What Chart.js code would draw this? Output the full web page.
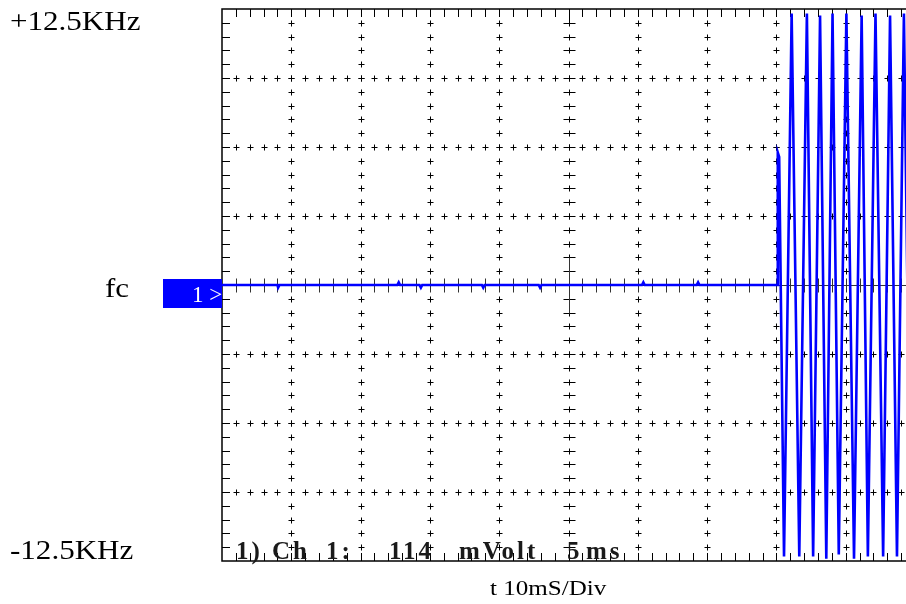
<!DOCTYPE html>
<html>
<head>
<meta charset="utf-8">
<script src="https://cdn.jsdelivr.net/npm/chart.js@4.4.1/dist/chart.umd.min.js"></script>
<style>
  html, body { margin: 0; padding: 0; background: #fff; overflow: hidden; }
  #wrap { width: 920px; height: 604px; }
</style>
</head>
<body>
<div id="wrap"><canvas id="scope" width="920" height="604"></canvas></div>
<script>
// time axis in ms (10 divisions of 10 ms), frequency offset in KHz
const timeMs = [0, 8.0, 8.1, 8.3, 25.3, 25.5, 25.7, 28.5, 28.7, 28.9, 37.5, 37.7, 37.9,
  45.7, 45.9, 46.1, 60.6, 60.8, 61.0, 68.5, 68.7, 68.9, 80.1, 80.2, 80.4,
  81.1, 82.2, 83.3, 84.4, 85.3, 86.3, 87.2, 88.1, 89.0, 90.1, 91.2, 92.3,
  93.2, 94.3, 95.4, 96.4, 97.4, 98.4, 99.4, 100]
const freqKHz = [0, 0, -0.12, 0, 0, 0.12, 0, 0, -0.12, 0, 0, -0.12, 0,
  0, -0.12, 0, 0, 0.12, 0, 0, 0.12, 0, 0, 6.0, 5.8,
  -12.3, 12.3, -12.3, 12.3, -12.3, 12.2, -12.4, 12.3, -12.2, 12.3, -12.4, 12.2,
  -12.3, 12.3, -12.3, 12.2, -12.3, 12.3, -12.3, 4.0]

const yLabels = ['+12.5KHz', 'fc', '-12.5KHz']
const yLabelValues = [12.5, 0, -12.5]
const xTitle = 't 10mS/Div'
const statusParts = ['1)', 'Ch', '1:', '114', 'mVolt', '5', 'ms']
const markerText = '1 >'

const points = timeMs.map((t, i) => ({ x: t, y: freqKHz[i] }))

// helper: serif text stretched horizontally like the scope font
const drawText = (ctx, str, x, y, font, sx, color) => {
  ctx.save()
  ctx.font = font
  ctx.fillStyle = color
  ctx.textBaseline = 'alphabetic'
  ctx.translate(x, y)
  ctx.scale(sx, 1)
  ctx.fillText(str, 0, 0)
  ctx.restore()
}

const scopeGrid = {
  id: 'scopeGrid',
  beforeDatasetsDraw(chart) {
    const ctx = chart.ctx
    const xs = chart.scales.x
    const ys = chart.scales.y
    const a = chart.chartArea
    ctx.save()
    ctx.strokeStyle = '#000'
    ctx.lineWidth = 1

    const line = (x1, y1, x2, y2) => {
      ctx.beginPath(); ctx.moveTo(x1, y1); ctx.lineTo(x2, y2); ctx.stroke()
    }
    const cy = Math.round(ys.getPixelForValue(0)) + 0.5
    const cx = Math.round(xs.getPixelForValue(50)) + 0.5

    // crosses along the major grid lines
    for (let mx = 10; mx < 100; mx += 10) {
      const px = Math.round(xs.getPixelForValue(mx)) + 0.5
      const arm = mx === 50 ? 6 : 3
      for (let k = 1; k < 40; k++) {
        const py = Math.round(ys.getPixelForValue(-12.5 + k * 0.625)) + 0.5
        line(px - arm, py, px + arm, py)
        line(px, py - 3, px, py + 3)
      }
    }
    for (let j = 1; j < 8; j++) {
      if (j === 4) continue
      const py = Math.round(ys.getPixelForValue(-12.5 + j * 3.125)) + 0.5
      for (let k = 1; k < 50; k++) {
        const px = Math.round(xs.getPixelForValue(k * 2)) + 0.5
        line(px - 3, py, px + 3, py)
        line(px, py - 3, px, py + 3)
      }
    }

    // centre axes with small ticks
    ctx.strokeStyle = '#333'
    line(a.left, cy, a.right, cy)
    line(cx, cy - 28, cx, cy + 28)
    for (let k = 1; k < 50; k++) {
      const px = Math.round(xs.getPixelForValue(k * 2)) + 0.5
      line(px, cy - 7, px, cy + 7)
    }

    // border and border ticks
    ctx.strokeStyle = '#000'
    ctx.lineWidth = 1.5
    ctx.strokeRect(a.left, a.top, a.right - a.left, a.bottom - a.top)
    ctx.lineWidth = 1
    for (let k = 1; k < 50; k++) {
      const px = Math.round(xs.getPixelForValue(k * 2)) + 0.5
      const len = k === 25 ? 14 : 8
      line(px, a.top, px, a.top + len)
      line(px, a.bottom, px, a.bottom - len)
    }
    for (let k = 1; k < 40; k++) {
      const py = Math.round(ys.getPixelForValue(-12.5 + k * 0.625)) + 0.5
      line(a.left, py, a.left + 8, py)
      line(a.right, py, a.right - 8, py)
    }
    ctx.restore()
  },
  afterDraw(chart) {
    const ctx = chart.ctx
    const ys = chart.scales.y
    const a = chart.chartArea
    const serif = '"Liberation Serif", "Times New Roman", serif'

    // left labels
    const lx = [10, 105, 10]
    const off = [21, 12, -2]
    yLabels.forEach((lab, i) => {
      drawText(ctx, lab, lx[i], ys.getPixelForValue(yLabelValues[i]) + off[i], '27px ' + serif, 1.15, '#000')
    })

    // channel marker
    const y0 = ys.getPixelForValue(0)
    ctx.fillStyle = '#0000ff'
    ctx.fillRect(163, y0 - 6, a.left - 163, 29)
    drawText(ctx, markerText, 192, y0 + 17, '23px ' + serif, 1.0, '#fff')

    // x title
    drawText(ctx, xTitle, 490, 595, '22px ' + serif, 1.14, '#000')

    // status line
    const sx = [236, 272, 326, 389, 459, 567, 586]
    ctx.save()
    ctx.letterSpacing = '3px'
    statusParts.forEach((s, i) => {
      drawText(ctx, s, sx[i], 559, 'bold 25px ' + serif, 1.0, '#1a1a1a')
    })
    ctx.restore()
  }
}

new Chart(document.getElementById('scope').getContext('2d'), {
  type: 'line',
  data: {
    datasets: [{
      data: points,
      borderColor: '#0000ff',
      borderWidth: 2.6,
      pointRadius: 0,
      tension: 0,
      fill: false
    }]
  },
  options: {
    responsive: false,
    animation: false,
    devicePixelRatio: 1,
    layout: { padding: { left: 222, top: 9, right: 5, bottom: 43 } },
    scales: {
      x: { type: 'linear', min: 0, max: 100, display: false },
      y: { type: 'linear', min: -12.5, max: 12.5, display: false }
    },
    plugins: { legend: { display: false }, tooltip: { enabled: false } }
  },
  plugins: [scopeGrid]
})
</script>
</body>
</html>
